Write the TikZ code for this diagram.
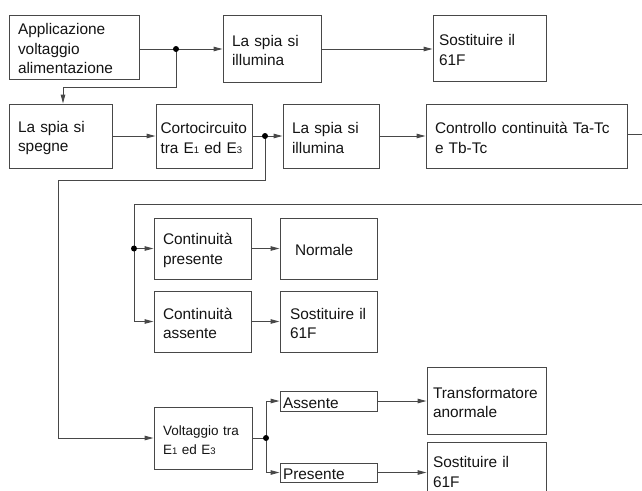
\documentclass[tikz,border=0pt]{standalone}
\usepackage{fontspec}
\setmainfont{Liberation Sans}
\usetikzlibrary{arrows.meta}
\definecolor{ln}{RGB}{72,72,72}
\definecolor{tx}{RGB}{20,20,20}
\newcommand\sbs[1]{{\fontsize{9.5}{9.5}\selectfont #1}}
\newcommand\mkbox[7][9]{%
  \pgfmathsetmacro\bw{#5-#3}%
  \pgfmathsetmacro\bh{#6-#4}%
  \pgfmathsetmacro\tw{#5-#3-2*#1}%
  \node[box, minimum width=\bw pt, minimum height=\bh pt, text width=\tw pt, inner xsep=#1 pt] (#2) at ({(#3+#5)/2},{(#4+#6)/2}) {\rule{0pt}{15pt}#7};}
\tikzset{
  box/.style={draw=ln, line width=1pt, inner ysep=0pt, align=left, text=tx,
    font=\fontsize{15.4}{19.5}\selectfont},
  conn/.style={draw=ln, line width=1pt},
  arr/.style={conn, -{Triangle[length=9pt,width=4.5pt]}},
  jdot/.style={circle, fill=black, inner sep=0pt, minimum size=6pt},
}
\begin{document}
\begin{tikzpicture}[x=1pt,y=-1pt]
\clip (0,0) rectangle (642,490);
\fill[white] (0,0) rectangle (642,490);
% row 1
\mkbox{appl}{9}{15}{139}{79}{Applicazione\\voltaggio\\alimentazione}
\mkbox{ill1}{223}{15}{321}{82}{La spia si\\illumina}
\mkbox[6]{sost1}{433}{15}{546}{81}{Sostituire il\\61F}
% row 2
\mkbox{speg}{9}{104}{112}{168}{La spia si\\spegne}
\mkbox[4.5]{corto}{156}{104}{252}{168}{Cortocircuito\\tra E\sbs{1} ed E\sbs{3}}
\mkbox{ill2}{283}{104}{379}{168}{La spia si\\illumina}
\mkbox{contr}{426}{104}{627}{168}{Controllo continuità Ta-Tc\\e Tb-Tc}
% continuity block
\mkbox{cpres}{154}{218}{251}{279}{Continuità\\presente}
\mkbox[15]{norm}{280}{218}{377}{279}{Normale}
\mkbox{cass}{154}{291}{251}{352}{Continuità\\assente}
\mkbox[10]{sost2}{280}{291}{377}{352}{Sostituire il\\61F}
% voltage block
\begin{scope}[box/.append style={font=\fontsize{13.5}{19}\selectfont}]
\mkbox{volt}{154}{407}{252}{469}{Voltaggio tra\\E\sbs{1} ed E\sbs{3}}
\end{scope}
\mkbox[3]{assn}{280}{391}{377}{411}{Assente}
\mkbox[3]{pres}{280}{463}{377}{482}{Presente}
\mkbox[6]{transf}{427}{367}{546}{434}{Transformatore\\anormale}
\mkbox[6]{sost3}{427}{442}{546}{498}{Sostituire il\\61F}
% junctions and bends
\coordinate (d1) at (176,49);
\coordinate (k1) at (63,87);
\coordinate (d2) at (265,136);
\coordinate (k2a) at (265,180);
\coordinate (k2b) at (58,180);
\coordinate (out1) at (642,134);
\coordinate (in1) at (642,204);
\coordinate (k3) at (134,204);
\coordinate (d4) at (266,438);
% connectors
\draw[conn] (appl.east |- d1) -- (d1);
\draw[arr] (d1) -- (ill1.west |- d1);
\draw[arr] (d1) |- (k1) -- (k1 |- speg.north);
\draw[arr] (ill1.east |- d1) -- (sost1.west |- d1);
\draw[arr] (speg.east) -- (corto.west);
\draw[conn] (corto.east) -- (d2);
\draw[arr] (d2) -- (ill2.west);
\draw[arr] (ill2.east) -- (contr.west);
\draw[conn] (contr.east |- out1) -- (out1);
\draw[conn] (in1) -- (k3);
\draw[arr] (k3) |- (cass.west);
\draw[arr] (k3 |- cpres.west) -- (cpres.west);
\draw[arr] (cpres.east) -- (norm.west);
\draw[arr] (cass.east) -- (sost2.west);
\draw[arr] (d2) -- (k2a) -- (k2b) |- (volt.west);
\draw[conn] (volt.east |- d4) -- (d4);
\draw[arr] (d4) |- (assn.west);
\draw[arr] (d4) |- (pres.west);
\draw[arr] (assn.east) -- (transf.west |- assn.east);
\draw[arr] (pres.east) -- (sost3.west |- pres.east);
% dots
\node[jdot] (j1) at (d1) {};
\node[jdot] (j2) at (d2) {};
\node[jdot] (j3) at (k3 |- cpres.west) {};
\node[jdot] (j4) at (d4) {};
\end{tikzpicture}
\end{document}
